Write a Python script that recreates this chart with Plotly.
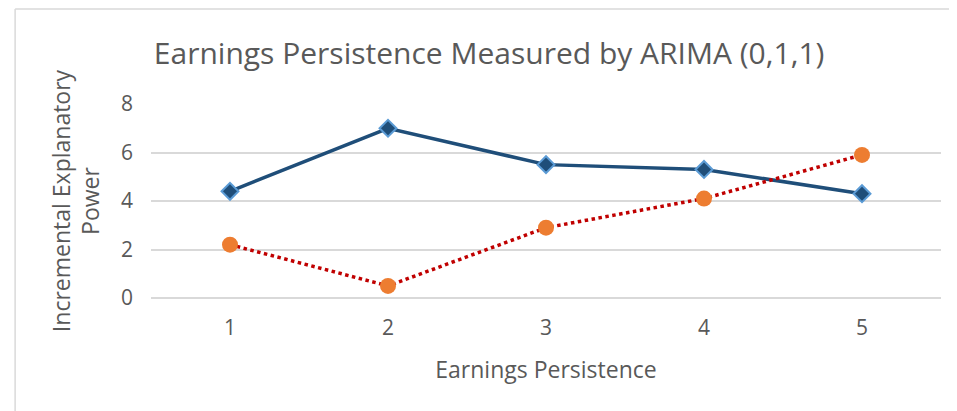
import plotly.graph_objects as go

categories = [1, 2, 3, 4, 5]
series_blue = [4.4, 7.0, 5.5, 5.3, 4.3]
series_orange = [2.2, 0.5, 2.9, 4.1, 5.9]
y_ticks = [0, 2, 4, 6, 8]

FONT = "Open Sans"
GRAY = "#595959"

fig = go.Figure()
fig.add_trace(go.Scatter(
    x=categories, y=series_blue, mode="lines+markers",
    line=dict(color="#1f4e79", width=3.5),
    marker=dict(symbol="diamond", size=13, color="#1f4e79",
                line=dict(color="#5b9bd5", width=2)),
    showlegend=False))
fig.add_trace(go.Scatter(
    x=categories, y=series_orange, mode="lines+markers",
    line=dict(color="#c00000", width=3.5, dash="dot"),
    marker=dict(symbol="circle", size=16, color="#ed7d31"),
    showlegend=False))

fig.update_layout(
    width=949, height=403,
    margin=dict(l=143, r=16, t=96, b=113),
    paper_bgcolor="white", plot_bgcolor="white",
    font=dict(family=FONT, color=GRAY),
    title=dict(text="Earnings Persistence Measured by ARIMA (0,1,1)",
               font=dict(size=30, color=GRAY, family=FONT),
               x=0.507, xanchor="center", y=0.888, yanchor="middle"),
    xaxis=dict(range=[0.5, 5.5], tickvals=categories,
               ticktext=[str(c) for c in categories],
               showgrid=False, zeroline=False, showline=False,
               ticks="", tickfont=dict(size=21, color=GRAY),
               ticklabelstandoff=15,
               title=dict(text="Earnings Persistence",
                          font=dict(size=23, color=GRAY), standoff=21)),
    yaxis=dict(range=[0, 8], tickvals=y_ticks,
               showgrid=True, gridcolor="#d9d9d9", gridwidth=1.5,
               zeroline=True, zerolinecolor="#d9d9d9", zerolinewidth=1.5,
               showline=False, ticks="",
               tickfont=dict(size=21, color=GRAY), ticklabelstandoff=17,
               title=dict(text="Incremental Explanatory<br>Power",
                          font=dict(size=23, color=GRAY), standoff=14)),
    shapes=[
        dict(type="line", xref="paper", yref="paper",
             x0=-0.172, x1=1.03, y0=1.49, y1=1.49,
             line=dict(color="#d9d9d9", width=1.5)),
        dict(type="line", xref="paper", yref="paper",
             x0=-0.172, x1=-0.172, y0=-0.6, y1=1.49,
             line=dict(color="#d9d9d9", width=1.5)),
    ],
)

fig.write_html("out.html")
